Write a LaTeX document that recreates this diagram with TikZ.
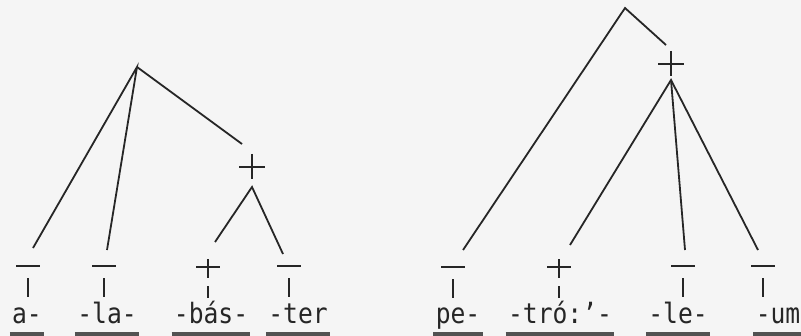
\documentclass[tikz,border=0pt]{standalone}
\usepackage{fontspec}
\setmonofont[FakeStretch=0.88]{DejaVu Sans Mono}
\usetikzlibrary{positioning}
\definecolor{ink}{gray}{0.15}
\definecolor{paper}{gray}{0.96}
\tikzset{
  morph/.style = {font=\ttfamily\fontsize{14}{14}\selectfont, text=ink,
                  inner sep=0pt, anchor=base},
  e/.style     = {draw=ink, line width=0.9pt},
  mk/.style    = {draw=ink, line width=1.2pt},
  ul/.style    = {draw=ink!80, line width=1.6pt},
  neg/.pic     = {\draw[mk] (-12,0) -- (12,0) (0,12) -- (0,31);},
  pos/.pic     = {\draw[mk] (-12,0) -- (12,0) (0,-8) -- (0,11) (0,19) -- (0,31);},
  cross/.pic   = {\draw[mk] (-13,0) -- (13,0) (0,-13) -- (0,12);}
}

\begin{document}
\begin{tikzpicture}[x=0.5pt,y=-0.5pt]
  \fill[paper] (0,0) rectangle (801,336);
  \useasboundingbox (0,0) rectangle (801,336);

  % morphemes
  \node[morph] (a)   at (27,323)  {a-};
  \node[morph] (la)  at (107,323) {-la-};
  \node[morph] (bas) at (211,323) {-bás-};
  \node[morph] (ter) at (298,323) {-ter};
  \node[morph] (pe)  at (458,323) {pe-};
  \node[morph] (tro) at (560,323) {-tró:’-};
  \node[morph] (le)  at (678,323) {-le-};
  \node[morph] (um)  at (778,323) {-um};
  \foreach \m in {a,la,bas,ter,pe,tro,le,um}
    \draw[ul] ([xshift=-1pt,yshift=-5.5pt]\m.base west) -- ([xshift=1pt,yshift=-5.5pt]\m.base east);

  % stress marks
  \pic at (28,266)  {neg};
  \pic at (104,266) {neg};
  \pic at (208,267) {pos};
  \pic at (289,266) {neg};
  \pic at (453,267) {neg};
  \pic at (559,267) {pos};
  \pic at (683,266) {neg};
  \pic at (763,266) {neg};
  \pic at (252,167) {cross};
  \pic at (671,64)  {cross};

  % left tree
  \coordinate (L)    at (137,67);
  \coordinate (La)   at (33,248);
  \coordinate (Lla)  at (107,250);
  \coordinate (Lp)   at (242,144);
  \coordinate (Lb)   at (252,187);
  \coordinate (Lbas) at (215,242);
  \coordinate (Lter) at (283,254);
  \draw[e] (La) -- (L) -- (Lla);
  \draw[e] (L) -- (Lp);
  \draw[e] (Lbas) -- (Lb) -- (Lter);

  % right tree
  \coordinate (R)    at (625,8);
  \coordinate (Rpe)  at (463,250);
  \coordinate (Rp)   at (666,45);
  \coordinate (Rb)   at (671,80);
  \coordinate (Rtro) at (570,245);
  \coordinate (Rle)  at (685,250);
  \coordinate (Rum)  at (758,250);
  \draw[e] (Rpe) -- (R) -- (Rp);
  \draw[e] (Rtro) -- (Rb) -- (Rum);
  \draw[e] (Rb) -- (Rle);
\end{tikzpicture}
\end{document}
